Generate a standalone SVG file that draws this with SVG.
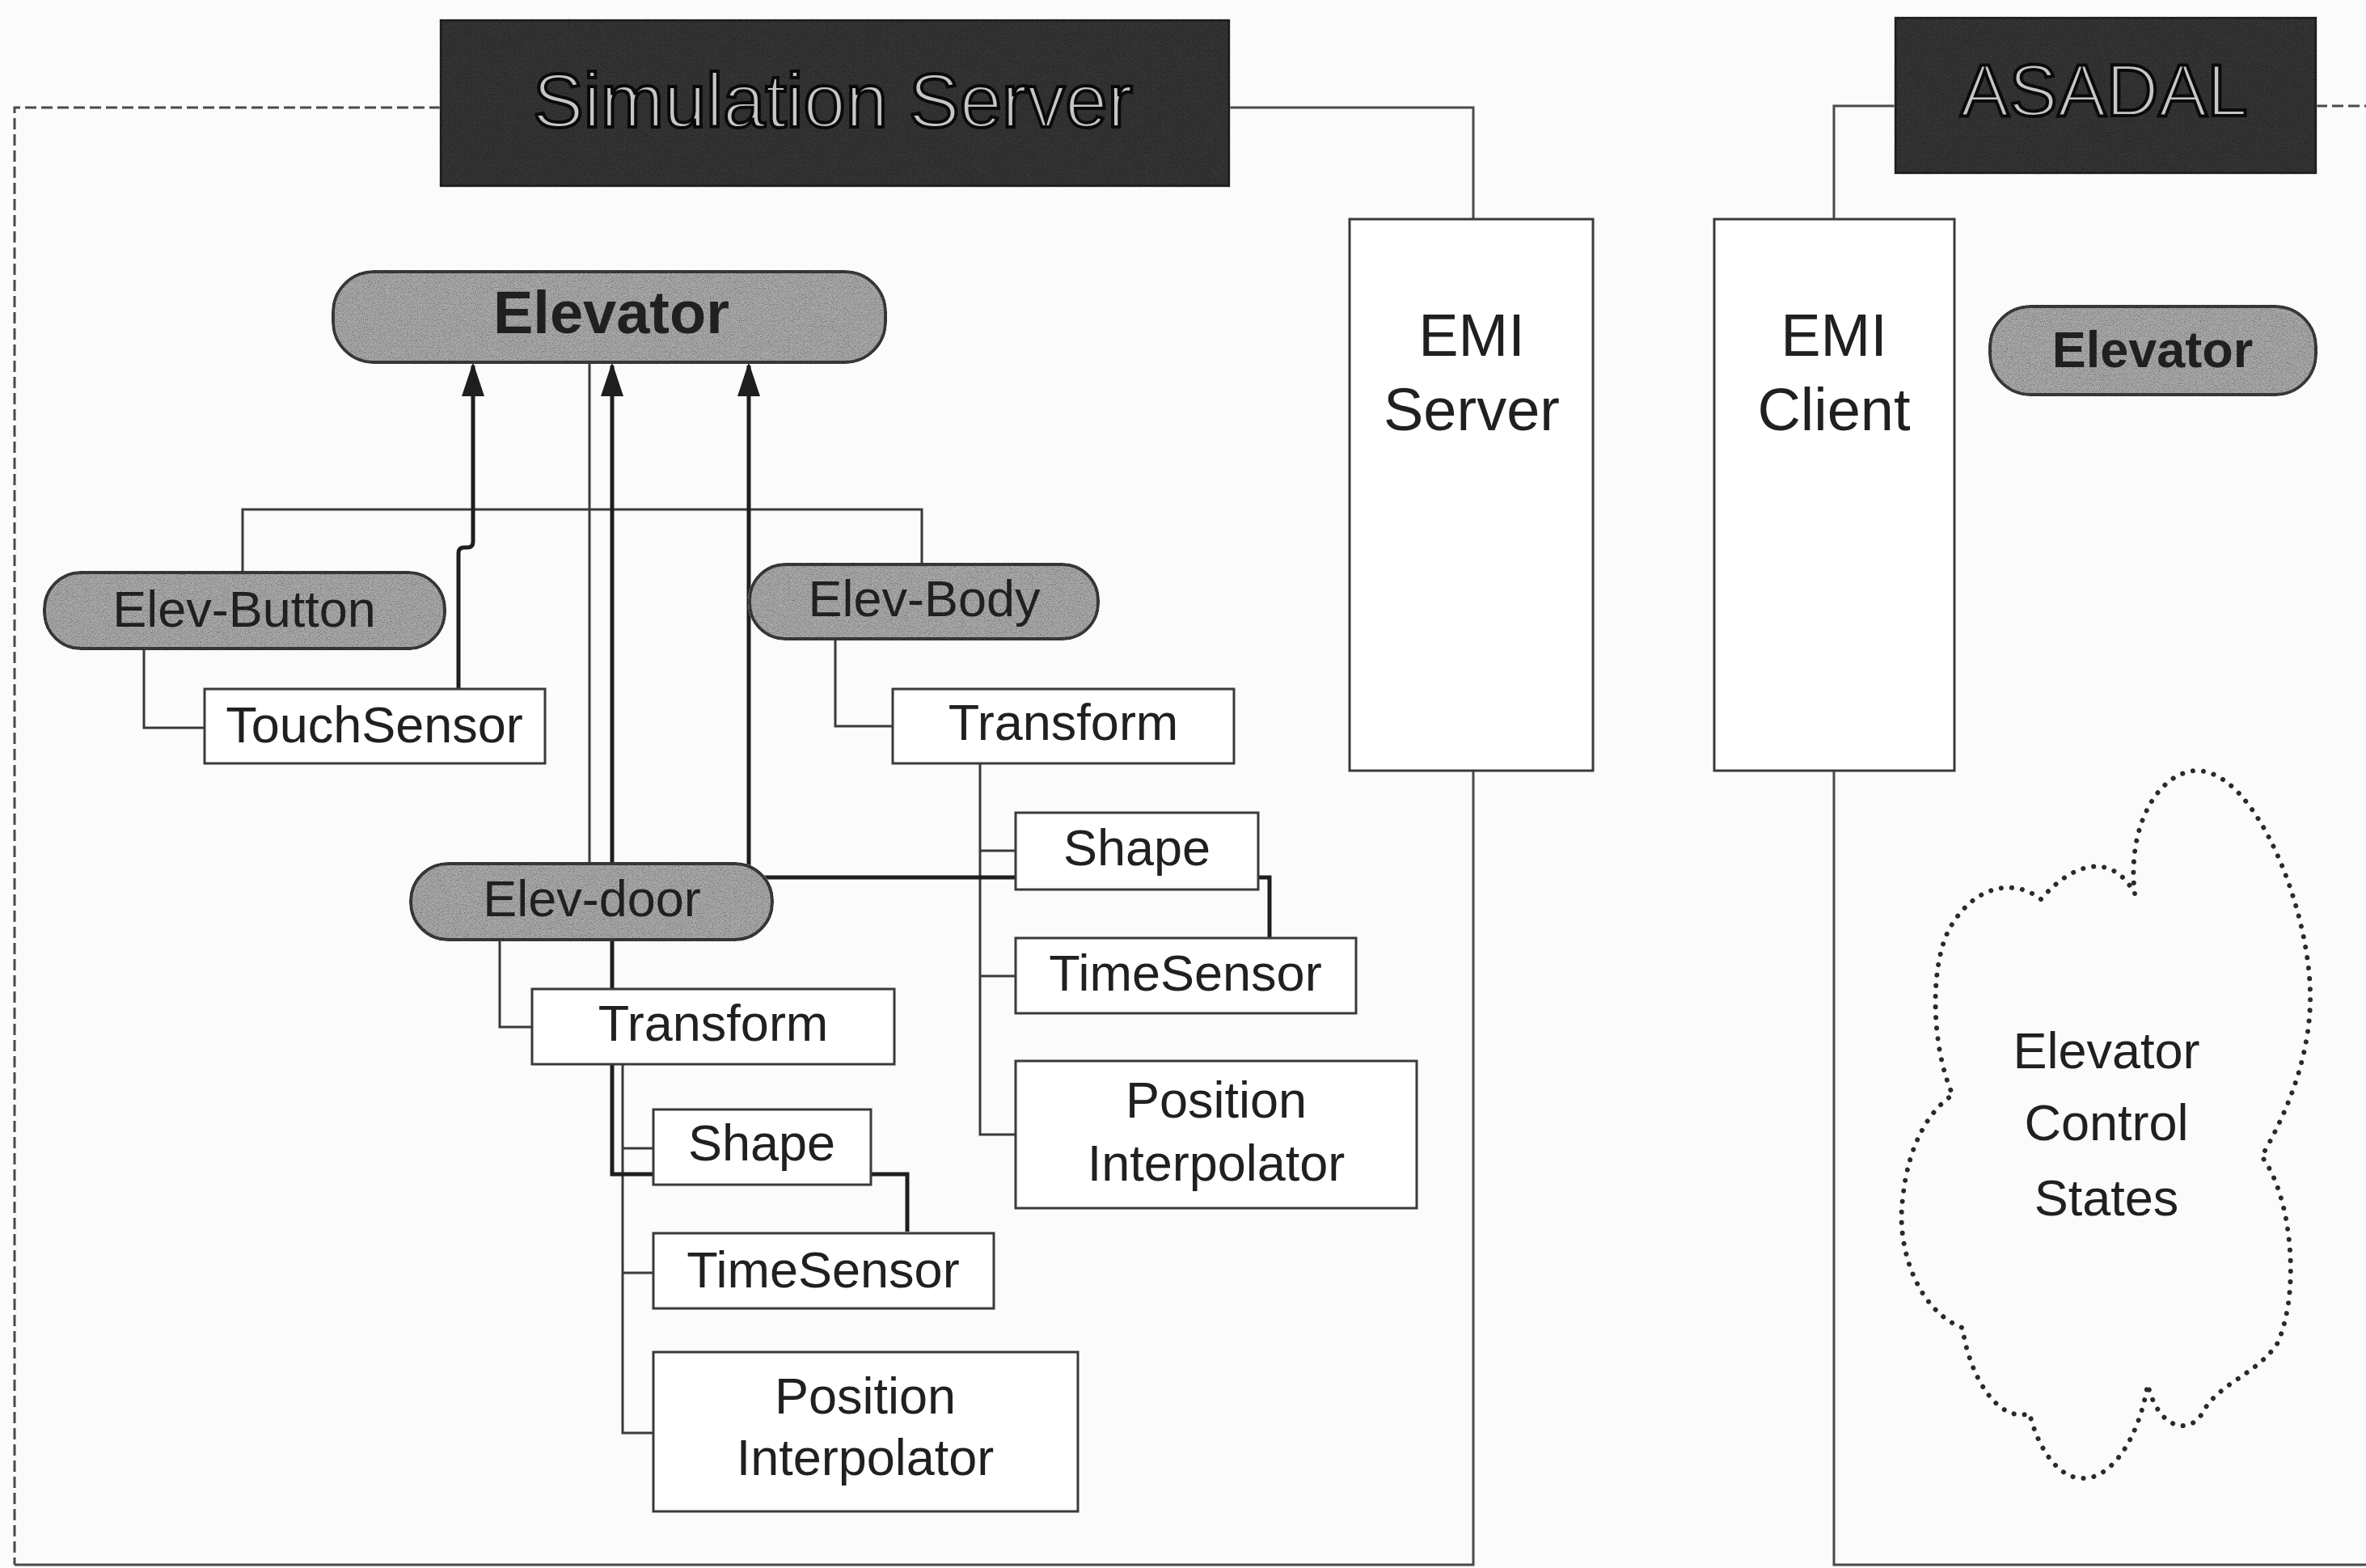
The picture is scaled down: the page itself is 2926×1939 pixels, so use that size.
<svg xmlns="http://www.w3.org/2000/svg" width="2926" height="1939" viewBox="0 0 2926 1939">
  <defs>
    <style>
      .bg { fill: #fbfbfb; }
      .frame { fill: none; stroke: #4a4a4a; stroke-width: 3; }
      .frame-dash { fill: none; stroke: #4a4a4a; stroke-width: 3; stroke-dasharray: 14 6; }
      .tree { fill: none; stroke: #3a3a3a; stroke-width: 3; }
      .flow { fill: none; stroke: #1e1e1e; stroke-width: 5; }
      .box { fill: #ffffff; stroke: #3a3a3a; stroke-width: 3; }
      .pill { fill: #acacac; stroke: #3c3c3c; stroke-width: 4; }
      .title { fill: #363636; stroke: #202020; stroke-width: 3; }
      .lbl { font-family: "Liberation Sans", Arial, sans-serif; font-size: 63px; fill: #202020; text-anchor: middle; }
      .big { font-size: 74px; }
      .bold { font-weight: bold; }
      .ttl { font-family: "Liberation Sans", Arial, sans-serif; fill: #c6c6c6; stroke: #0a0a0a; stroke-width: 4; text-anchor: middle; }
      .cloud { fill: none; stroke: #2a2a2a; stroke-width: 6; stroke-linecap: round; stroke-dasharray: 0.1 13; }
    </style>
    <!-- speckled texture for shaded shapes -->
    <filter id="grain" x="-2%" y="-5%" width="104%" height="110%">
      <feTurbulence type="fractalNoise" baseFrequency="0.85" numOctaves="2" seed="7" result="n"/>
      <feColorMatrix in="n" type="matrix" values="1.6 0 0 0 0.05  1.6 0 0 0 0.05  1.6 0 0 0 0.05  0 0 0 0 1" result="g"/>
      <feBlend in="SourceGraphic" in2="g" mode="multiply" result="m"/>
      <feComposite in="m" in2="SourceGraphic" operator="in"/>
    </filter>
    <marker id="arrow" markerUnits="userSpaceOnUse" markerWidth="42" markerHeight="28" viewBox="0 0 42 28" refX="38" refY="14" orient="auto">
      <path d="M0,0 L42,14 L0,28 Z" fill="#1e1e1e"/>
    </marker>
  </defs>

  <rect class="bg" x="0" y="0" width="2926" height="1939"/>

  <!-- container frames and links between servers -->
  <g id="frames">
    <path class="frame-dash" d="M545,133 H18 V1935"/>
    <path class="frame" d="M18,1935 H1822 V953"/>
    <path class="frame" d="M1520,133 H1822 V271"/>
    <path class="frame" d="M2344,131 H2268 V271"/>
    <path class="frame" d="M2268,953 V1935 H2926"/>
    <path class="frame-dash" d="M2864,131 H2926"/>
  </g>

  <!-- connectors -->
  <g id="connectors">
    <!-- scene graph hierarchy -->
    <path class="tree" d="M729,448 V1068"/>
    <path class="tree" d="M300,708 V630 H1140 V698"/>
    <path class="tree" d="M178,802 V900 H253"/>
    <path class="tree" d="M1033,790 V898 H1104"/>
    <path class="tree" d="M1212,943 V1403 H1256"/>
    <path class="tree" d="M1212,1052 H1256"/>
    <path class="tree" d="M1212,1207 H1256"/>
    <path class="tree" d="M618,1162 V1270 H658"/>
    <path class="tree" d="M770,1316 V1772 H808"/>
    <path class="tree" d="M770,1420 H808"/>
    <path class="tree" d="M770,1574 H808"/>
    <!-- event routes into Elevator -->
    <path class="flow" marker-end="url(#arrow)" d="M567,851 V684 Q567,677 574,677 H578 Q585,677 585,670 V452"/>
    <path class="flow" marker-end="url(#arrow)" d="M1122,1523 V1452 H757 V452"/>
    <path class="flow" marker-end="url(#arrow)" d="M1570,1160 V1085 H926 V452"/>
  </g>

  <g id="simulation-server">
    <rect class="title" filter="url(#grain)" x="545" y="25" width="975" height="205"/>
    <text class="ttl" x="1030" y="157" font-size="94">Simulation Server</text>
  </g>

  <g id="asadal">
    <rect class="title" filter="url(#grain)" x="2344" y="22" width="520" height="192"/>
    <text class="ttl" x="2602" y="143" font-size="90">ASADAL</text>
  </g>

  <g id="elevator">
    <rect class="pill" filter="url(#grain)" x="412" y="336" width="683" height="112" rx="50" ry="50"/>
    <text class="lbl big bold" x="756" y="412">Elevator</text>
  </g>

  <g id="elev-button">
    <rect class="pill" filter="url(#grain)" x="55" y="708" width="495" height="94" rx="45" ry="45"/>
    <text class="lbl" x="302" y="775">Elev-Button</text>
  </g>

  <g id="touch-sensor">
    <rect class="box" x="253" y="852" width="421" height="92"/>
    <text class="lbl" x="463" y="918">TouchSensor</text>
  </g>

  <g id="elev-body">
    <rect class="pill" filter="url(#grain)" x="927" y="698" width="431" height="92" rx="44" ry="44"/>
    <text class="lbl" x="1143" y="762">Elev-Body</text>
  </g>

  <g id="body-transform">
    <rect class="box" x="1104" y="852" width="422" height="92"/>
    <text class="lbl" x="1315" y="915">Transform</text>
  </g>

  <g id="body-shape">
    <rect class="box" x="1256" y="1005" width="300" height="95"/>
    <text class="lbl" x="1406" y="1070">Shape</text>
  </g>

  <g id="body-time-sensor">
    <rect class="box" x="1256" y="1160" width="421" height="93"/>
    <text class="lbl" x="1466" y="1225">TimeSensor</text>
  </g>

  <g id="body-position-interpolator">
    <rect class="box" x="1256" y="1312" width="496" height="182"/>
    <text class="lbl" x="1504" y="1382">Position</text>
    <text class="lbl" x="1504" y="1460">Interpolator</text>
  </g>

  <g id="elev-door">
    <rect class="pill" filter="url(#grain)" x="508" y="1068" width="447" height="94" rx="46" ry="46"/>
    <text class="lbl" x="732" y="1133">Elev-door</text>
  </g>

  <g id="door-transform">
    <rect class="box" x="658" y="1223" width="448" height="93"/>
    <text class="lbl" x="882" y="1287">Transform</text>
  </g>

  <g id="door-shape">
    <rect class="box" x="808" y="1372" width="269" height="93"/>
    <text class="lbl" x="942" y="1435">Shape</text>
  </g>

  <g id="door-time-sensor">
    <rect class="box" x="808" y="1525" width="421" height="93"/>
    <text class="lbl" x="1018" y="1592">TimeSensor</text>
  </g>

  <g id="door-position-interpolator">
    <rect class="box" x="808" y="1672" width="525" height="197"/>
    <text class="lbl" x="1070" y="1748">Position</text>
    <text class="lbl" x="1070" y="1824">Interpolator</text>
  </g>

  <g id="emi-server">
    <rect class="box" x="1669" y="271" width="301" height="682"/>
    <text class="lbl big" x="1820" y="440">EMI</text>
    <text class="lbl big" x="1820" y="532">Server</text>
  </g>

  <g id="emi-client">
    <rect class="box" x="2120" y="271" width="297" height="682"/>
    <text class="lbl big" x="2268" y="440">EMI</text>
    <text class="lbl big" x="2268" y="532">Client</text>
  </g>

  <g id="asadal-elevator">
    <rect class="pill" filter="url(#grain)" x="2461" y="379" width="403" height="109" rx="50" ry="50"/>
    <text class="lbl bold" x="2662" y="454" font-size="70">Elevator</text>
  </g>

  <g id="control-states">
    <path class="cloud" d="M2640,1105 C2630,1020 2670,955 2716,953 C2790,952 2860,1130 2857,1240 C2855,1320 2820,1390 2797,1430 C2835,1480 2845,1600 2816,1662 C2790,1700 2745,1710 2725,1745 C2710,1775 2670,1770 2656,1712 C2645,1780 2610,1830 2575,1828 C2545,1828 2520,1790 2510,1748 C2470,1760 2435,1700 2427,1642 C2370,1620 2345,1540 2353,1483 C2360,1410 2390,1370 2415,1354 C2390,1300 2385,1200 2410,1150 C2440,1095 2490,1085 2524,1112 C2560,1070 2610,1050 2640,1105 Z"/>
    <text class="lbl" x="2605" y="1321" font-size="72">Elevator</text>
    <text class="lbl" x="2605" y="1410" font-size="72">Control</text>
    <text class="lbl" x="2605" y="1503" font-size="72">States</text>
  </g>
</svg>
